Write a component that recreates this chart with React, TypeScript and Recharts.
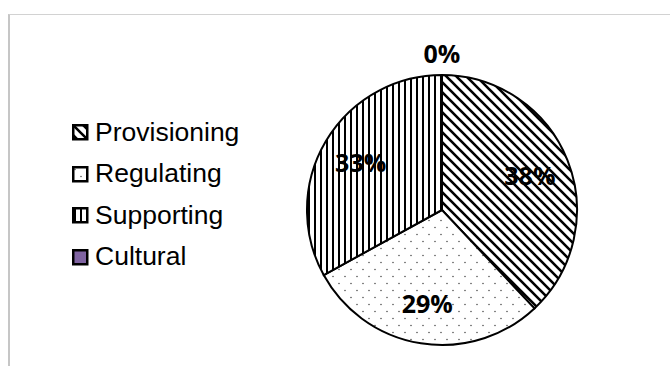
import React from 'react';
import { PieChart, Pie, Cell, Legend } from 'recharts';

const categories = ['Provisioning', 'Regulating', 'Supporting', 'Cultural'];
const values = [38, 29, 33, 0];
const percentLabels = ['38%', '29%', '33%', '0%'];
const fills = ['url(#pat-prov)', 'url(#pat-reg)', 'url(#pat-sup)', '#8064A2'];

const data = categories.map((name, i) => ({ name, value: values[i] }));

const RAD = Math.PI / 180;

const renderLabel = (props: any) => {
  const { cx, cy, midAngle, outerRadius, index, value } = props;
  const r = value === 0 ? outerRadius + 22 : outerRadius * 0.7;
  const x = cx + r * Math.cos(-midAngle * RAD);
  const y = cy + r * Math.sin(-midAngle * RAD);
  return (
    <text
      key={`lbl-${index}`}
      x={x}
      y={y}
      textAnchor="middle"
      dominantBaseline="central"
      fill="#000"
      fontFamily="'Open Sans', sans-serif"
      fontWeight={700}
      fontSize={25}
    >
      {percentLabels[index]}
    </text>
  );
};

const LegendContent = () => (
  <div style={{ fontFamily: "'Liberation Sans', Arial, sans-serif", fontSize: 26.5, color: '#000' }}>
    {categories.map((c, i) => (
      <div key={c} style={{ height: 41.6, lineHeight: '41.6px', display: 'flex', alignItems: 'center', whiteSpace: 'nowrap' }}>
        <svg width={17} height={17} style={{ display: 'block', marginRight: 6 }}>
          <rect x={1.25} y={1.25} width={14} height={14} fill={fills[i]} stroke="#000" strokeWidth={2.5} />
        </svg>
        <span>{c}</span>
      </div>
    ))}
  </div>
);

export default function App() {
  return (
    <div style={{ position: 'absolute', left: 0, top: 0, width: 670, height: 366, overflow: 'hidden', background: '#fff' }}>
      <svg width={0} height={0} style={{ position: 'absolute' }}>
        <defs>
          <pattern id="pat-prov" patternUnits="userSpaceOnUse" width={10} height={10}>
            <rect width={10} height={10} fill="#fff" />
            <path d="M0,0 L10,10 M-5,5 L5,15 M5,-5 L15,5" stroke="#000" strokeWidth={2.6} />
          </pattern>
          <pattern id="pat-sup" patternUnits="userSpaceOnUse" width={6} height={6}>
            <rect width={6} height={6} fill="#fff" />
            <path d="M3,0 L3,6" stroke="#000" strokeWidth={2} />
          </pattern>
          <pattern id="pat-reg" patternUnits="userSpaceOnUse" width={12} height={14}>
            <rect width={12} height={14} fill="#fff" />
            <circle cx={3} cy={3.5} r={0.8} fill="#555" />
            <circle cx={9} cy={10.5} r={0.8} fill="#555" />
          </pattern>
        </defs>
      </svg>
      <div style={{ position: 'absolute', left: 8, top: 14, width: 700, height: 400, borderLeft: '2.5px solid #c6c6c6', borderTop: '1.5px solid #d2d2d2' }} />
      <div style={{ position: 'absolute', left: 0, top: 0 }}>
        <PieChart width={670} height={366} margin={{ top: 0, right: 0, bottom: 0, left: 0 }}>
          <Pie
            data={data}
            dataKey="value"
            nameKey="name"
            cx={442}
            cy={210}
            outerRadius={135}
            startAngle={90}
            endAngle={-270}
            stroke="#000"
            strokeWidth={2}
            label={renderLabel}
            labelLine={false}
            isAnimationActive={false}
          >
            {data.map((d, i) => (
              <Cell key={d.name} fill={fills[i]} />
            ))}
          </Pie>
          <Legend
            layout="vertical"
            align="center"
            verticalAlign="middle"
            content={<LegendContent />}
            wrapperStyle={{ position: 'absolute', left: 72, top: 111.7, width: 230, margin: 0 }}
          />
        </PieChart>
      </div>
    </div>
  );
}
